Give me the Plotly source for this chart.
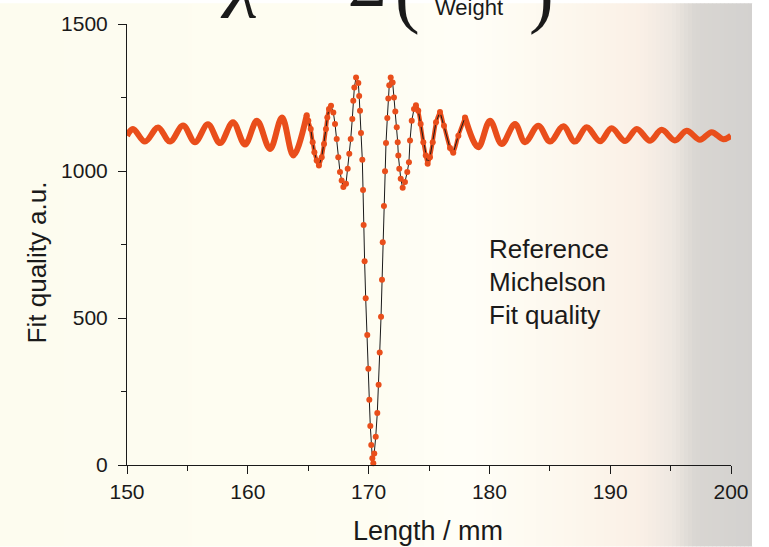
import plotly.graph_objects as go

# ---- data: fit quality vs. length ----
# left oscillating wing (extrema)
left_len = [150.0, 150.5, 151.49, 152.57, 153.56, 154.64, 155.63, 156.7, 157.7,
            158.77, 159.77, 160.76, 161.84, 162.83, 163.77, 164.88]
left_fit = [1120, 1143, 1100, 1148, 1100, 1155, 1098, 1159, 1095,
            1166, 1090, 1171, 1075, 1182, 1053, 1190]

# central dip, individual samples
core_len = [164.88, 165.01, 165.21, 165.37, 165.51, 165.70, 165.89, 166.12, 166.31,
            166.47, 166.58, 166.72, 166.89, 167.08, 167.22, 167.36, 167.49, 167.63,
            167.77, 167.91, 168.13, 168.27, 168.40, 168.52, 168.65, 168.73, 168.82,
            168.96, 169.15, 169.22, 169.29, 169.37, 169.48, 169.54, 169.59, 169.67,
            169.76, 169.89, 169.98, 170.06, 170.14, 170.22, 170.31, 170.39, 170.47,
            170.59, 170.72, 170.83, 170.92, 171.03, 171.11, 171.17, 171.27, 171.36,
            171.44, 171.55, 171.63, 171.71, 171.83, 171.99, 172.10, 172.21, 172.33,
            172.41, 172.46, 172.54, 172.66, 172.82, 173.01, 173.20, 173.34, 173.43,
            173.57, 173.76, 173.92, 174.11, 174.31, 174.53, 174.73, 174.89, 175.08,
            175.31, 175.58, 175.91, 176.24, 176.74, 177.01, 177.43, 177.98]
core_fit = [1190, 1171, 1143, 1098, 1064, 1036, 1019, 1047, 1092,
            1143, 1182, 1211, 1222, 1199, 1160, 1109, 1047, 997,
            968, 946, 957, 1008, 1059, 1109, 1177, 1239, 1284,
            1318, 1299, 1255, 1205, 1129, 1038, 935, 816, 693,
            567, 442, 327, 222, 133, 68, 23, 6, 39,
            96, 177, 273, 383, 504, 630, 758, 881, 999,
            1095, 1180, 1247, 1292, 1318, 1301, 1250, 1202, 1149,
            1098, 1053, 1008, 974, 943, 963, 997, 1030, 1104,
            1171, 1211, 1224, 1205, 1160, 1098, 1053, 1025, 1047,
            1098, 1166, 1201, 1154, 1078, 1062, 1120, 1182]

# right oscillating wing (extrema)
right_len = [177.98, 179.08, 180.05, 181.02, 182.12, 182.95, 184.05, 185.02, 186.12,
             187.07, 188.05, 189.16, 190.12, 191.23, 192.2, 193.3, 194.26, 195.36,
             196.33, 197.43, 198.4, 199.36, 200.0]
right_fit = [1182, 1081, 1171, 1092, 1160, 1098, 1154, 1100, 1152,
             1100, 1149, 1101, 1145, 1102, 1143, 1103, 1140, 1104,
             1137, 1106, 1132, 1108, 1120]

legend_lines = ["Reference", "Michelson", "Fit quality"]
x_ticks = [150, 160, 170, 180, 190, 200]
y_ticks = [0, 500, 1000, 1500]

# ---- page geometry ----
W, H = 769, 547
ML, MR, MT, MB = 127, 38, 21, 82
PW, PH = W - ML - MR, H - MT - MB


def px(xp):
    return (xp - ML) / PW


def py(yp):
    return (H - MB - yp) / PH


ORANGE = "#E94E1B"
INK = "#1a1a1a"
SANS = "Liberation Sans, Arial, sans-serif"
SERIF = "Liberation Serif, Times New Roman, serif"

fig = go.Figure()

# dense sampling on the gentle ripples merges into a thick band
for xs, ys in [(left_len, left_fit), (right_len, right_fit)]:
    fig.add_trace(go.Scatter(x=xs, y=ys, mode="lines",
                             line=dict(color=ORANGE, width=6, shape="spline", smoothing=1),
                             showlegend=False, hoverinfo="skip"))

# same band under the outer ripples of the core samples
band_sets = [[(x, y) for x, y in zip(core_len, core_fit) if x <= 166.9],
             [(x, y) for x, y in zip(core_len, core_fit) if x >= 173.9]]
for pts in band_sets:
    fig.add_trace(go.Scatter(x=[p[0] for p in pts], y=[p[1] for p in pts], mode="lines",
                             line=dict(color=ORANGE, width=4, shape="spline", smoothing=0.8),
                             showlegend=False, hoverinfo="skip"))

fig.add_trace(go.Scatter(x=core_len, y=core_fit, mode="lines+markers",
                         line=dict(color=INK, width=1),
                         marker=dict(color=ORANGE, size=6, line=dict(width=0)),
                         cliponaxis=False, showlegend=False))

# ---- background wash (cream to grey towards the right edge) ----
stops = [(0, (253, 252, 239)), (380, (254, 253, 242)), (470, (255, 254, 247)),
         (560, (253, 248, 238)), (640, (250, 240, 230)), (672, (238, 231, 225)),
         (695, (217, 214, 210)), (752, (211, 209, 207))]


def col_at(x):
    for (x0, c0), (x1, c1) in zip(stops, stops[1:]):
        if x0 <= x <= x1:
            t = (x - x0) / (x1 - x0)
            return tuple(round(a + (b - a) * t) for a, b in zip(c0, c1))
    return stops[-1][1]


shapes = []
step = 4
for x in range(0, 752, step):
    c = col_at(x + step / 2)
    shapes.append(dict(type="rect", xref="paper", yref="paper", layer="below",
                       x0=px(x), x1=px(min(x + step, 752) + 0.5), y0=py(H), y1=py(0),
                       line=dict(width=0), fillcolor="rgb(%d,%d,%d)" % c))
shapes.append(dict(type="rect", xref="paper", yref="paper", layer="below",
                   x0=px(752), x1=px(W), y0=py(H), y1=py(0),
                   line=dict(width=0), fillcolor="white"))

annotations = []
# axis titles
annotations.append(dict(text="Length / mm", xref="paper", yref="paper",
                        x=px(428), y=py(531), xanchor="center", yanchor="middle",
                        showarrow=False, font=dict(family=SANS, size=27, color=INK)))
annotations.append(dict(text="Fit quality a.u.", xref="paper", yref="paper",
                        x=px(37), y=py(261), xanchor="center", yanchor="middle",
                        textangle=-90, showarrow=False,
                        font=dict(family=SANS, size=26, color=INK)))
# legend text
for i, s in enumerate(legend_lines):
    annotations.append(dict(text=s, xref="paper", yref="paper",
                            x=px(487), y=py(248 + 33 * i), xanchor="left", yanchor="middle",
                            showarrow=False, font=dict(family=SANS, size=26, color=INK)))
# formula running off the top edge
annotations += [
    dict(text="<i>χ</i>", x=px(242), y=py(17), xanchor="center", yanchor="bottom",
         font=dict(family=SERIF, size=80, color=INK)),
    dict(text="Σ", x=px(367), y=py(19), xanchor="center", yanchor="bottom",
         font=dict(family=SERIF, size=66, color=INK)),
    dict(text="(", x=px(407), y=py(34), xanchor="center", yanchor="bottom",
         font=dict(family=SERIF, size=74, color=INK)),
    dict(text="Weight", x=px(433), y=py(19), xanchor="left", yanchor="bottom",
         font=dict(family=SANS, size=22, color=INK)),
    dict(text=")", x=px(541), y=py(34), xanchor="center", yanchor="bottom",
         font=dict(family=SERIF, size=74, color=INK)),
]
for a in annotations[-5:]:
    a.update(xref="paper", yref="paper", showarrow=False)

axis_common = dict(showline=True, linecolor=INK, linewidth=1, ticks="outside",
                   ticklen=8, tickwidth=1, tickcolor=INK, showgrid=False,
                   zeroline=False, tickfont=dict(family=SANS, size=21, color=INK))

fig.update_layout(
    width=W, height=H,
    margin=dict(l=ML, r=MR, t=MT, b=MB),
    paper_bgcolor="rgba(0,0,0,0)", plot_bgcolor="rgba(0,0,0,0)",
    xaxis=dict(range=[150, 200], tickvals=x_ticks, ticklabelstandoff=0,
               minor=dict(dtick=5, tick0=150, ticks="outside", ticklen=5,
                          tickcolor=INK, showgrid=False),
               **axis_common),
    yaxis=dict(range=[0, 1500], tickvals=y_ticks, ticklabelstandoff=6,
               minor=dict(dtick=250, tick0=0, ticks="outside", ticklen=5,
                          tickcolor=INK, showgrid=False),
               **axis_common),
    shapes=shapes,
    annotations=annotations,
    showlegend=False,
)

fig.write_html("out.html")
